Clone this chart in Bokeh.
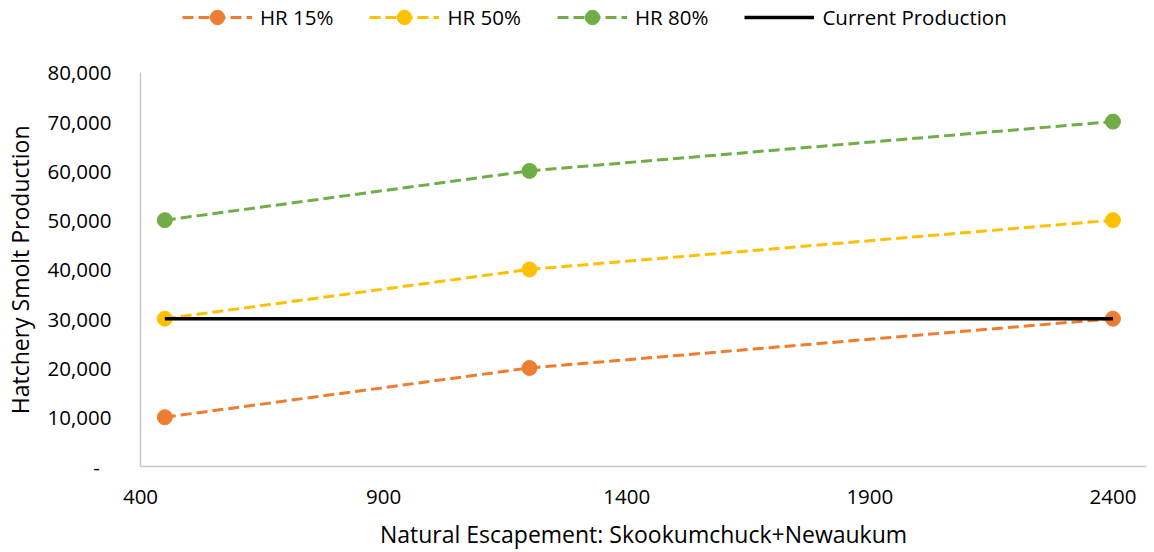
from bokeh.plotting import figure
from bokeh.models import Legend, LegendItem, FixedTicker, CustomJSTickFormatter, Range1d
from bokeh.embed import file_html
from bokeh.resources import INLINE

# ---- data ----
escapement = [450, 1200, 2400]
hr15 = [10000, 20000, 30000]
hr50 = [30000, 40000, 50000]
hr80 = [50000, 60000, 70000]
current_x = [450, 2400]
current_y = [30000, 30000]
series_names = ["HR 15%", "HR 50%", "HR 80%", "Current Production"]
x_ticks = [400, 900, 1400, 1900, 2400]
y_ticks = [0, 10000, 20000, 30000, 40000, 50000, 60000, 70000, 80000]
y_axis_max = 80000

FONT = "Open Sans"
ORANGE = "#ED7D31"
YELLOW = "#FFC000"
GREEN = "#70AD47"

# frame spans the whole height above the x axis (467 px); the y axis stops at 80,000 (395 px up)
FRAME_H = 467
AXIS_H = 395
p = figure(width=1150, height=552, output_backend="svg", toolbar_location=None,
           x_range=Range1d(400, 2469), y_range=Range1d(0, y_axis_max * FRAME_H / AXIS_H),
           min_border_left=140, min_border_right=4, min_border_top=0, min_border_bottom=85)
p.outline_line_color = None
p.xgrid.grid_line_color = None
p.ygrid.grid_line_color = None
p.background_fill_color = "white"
p.border_fill_color = "white"

renderers = []
for ys, col in [(hr15, ORANGE), (hr50, YELLOW), (hr80, GREEN)]:
    l = p.line(escapement, ys, line_color=col, line_width=3, line_dash="11 5")
    s = p.scatter(escapement, ys, size=15, fill_color=col, line_color=col)
    renderers.append([l, s])
cl = p.line(current_x, current_y, line_color="black", line_width=3.5)
renderers.append([cl])

items = [LegendItem(label=n, renderers=r) for n, r in zip(series_names, renderers)]
legend = Legend(items=items, orientation="horizontal", location=(42, 431),
                glyph_width=70, glyph_height=36, label_height=36,
                label_standoff=8, spacing=36, padding=0, margin=0,
                border_line_color=None, background_fill_alpha=0,
                label_text_font=FONT, label_text_font_size="20.5px", label_text_color="black")
p.add_layout(legend, "center")

for ax in (p.xaxis[0], p.yaxis[0]):
    ax.axis_line_color = "#C8C8C8"
    ax.axis_line_width = 1.5
    ax.major_tick_line_color = None
    ax.minor_tick_line_color = None
    ax.major_label_text_font = FONT
    ax.major_label_text_font_size = "20.5px"
    ax.major_label_text_color = "black"
    ax.axis_label_text_font = FONT
    ax.axis_label_text_font_size = "23px"
    ax.axis_label_text_font_style = "normal"
    ax.axis_label_text_color = "black"

p.yaxis.bounds = (0, y_axis_max)
p.xaxis.ticker = FixedTicker(ticks=x_ticks)
p.yaxis.ticker = FixedTicker(ticks=y_ticks)
p.xaxis.axis_label = "Natural Escapement: Skookumchuck+Newaukum"
# trailing em spaces keep the label centred on the 0-80,000 axis span
p.yaxis.axis_label = "Hatchery Smolt Production\u2003\u2003\u2003\u2009"
p.xaxis.major_label_standoff = 17
p.xaxis.axis_label_standoff = 11
p.yaxis.major_label_standoff = 23
p.yaxis.axis_label_standoff = 9
p.yaxis.formatter = CustomJSTickFormatter(code="""
if (tick == 0) { return "-\u2007"; }
return tick.toLocaleString('en-US');
""")

open("out.html", "w").write(file_html(p, INLINE))
